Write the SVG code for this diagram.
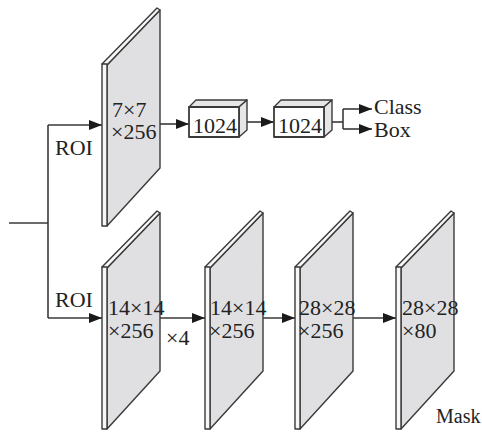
<svg xmlns="http://www.w3.org/2000/svg" width="482" height="433" viewBox="0 0 482 433">
  <style>
    .ln { fill: none; stroke: #3a3a3a; stroke-width: 1.6; }
    .face { fill: #e0e0e3; stroke: #3a3a3a; stroke-width: 1.4; stroke-linejoin: round; }
    .edge { fill: #f7f7f7; stroke: #3a3a3a; stroke-width: 1.4; stroke-linejoin: round; }
    .box { fill: #ffffff; stroke: #3a3a3a; stroke-width: 1.8; stroke-linejoin: round; }
    .boxside { fill: #e6e6e6; stroke: #3a3a3a; stroke-width: 1.4; stroke-linejoin: round; }
    .t { font-family: "Liberation Serif", "DejaVu Serif", serif; font-size: 22px; fill: #222222; }
  </style>
  <defs>
    <marker id="arrow" markerUnits="userSpaceOnUse" markerWidth="14" markerHeight="12" refX="13" refY="6" orient="auto">
      <path d="M0,1 L13,6 L0,11 Z" fill="#1a1a1a"/>
    </marker>
    <!-- feature-map slab: thin edge strip, top band, shaded face -->
    <g id="slab">
      <polygon class="face" points="107,65 160,10 160,168 107,226"/>
      <polygon class="edge" points="102,64 157,8 160,10 107,65"/>
      <rect class="edge" x="102" y="64" width="5" height="162"/>
    </g>
    <!-- fully connected block -->
    <g id="fc">
      <polygon class="boxside" points="189,107 196,100 247,100 239,107"/>
      <polygon class="boxside" points="239,107 247,100 247,130 239,137"/>
      <rect class="box" x="189" y="107" width="50" height="30"/>
    </g>
  </defs>

  <!-- connectors -->
  <g id="connectors">
    <path class="ln" d="M9,223 H48"/>
    <path class="ln" d="M48,125 V318"/>
    <path class="ln" d="M48,125 H102" marker-end="url(#arrow)"/>
    <path class="ln" d="M48,318 H102" marker-end="url(#arrow)"/>
    <path class="ln" d="M160,124 H189" marker-end="url(#arrow)"/>
    <path class="ln" d="M247,122 H274" marker-end="url(#arrow)"/>
    <path class="ln" d="M332,122 H343"/>
    <path class="ln" d="M343,109 V129"/>
    <path class="ln" d="M343,109 H372" marker-end="url(#arrow)"/>
    <path class="ln" d="M343,129 H372" marker-end="url(#arrow)"/>
    <path class="ln" d="M155,318 H205" marker-end="url(#arrow)"/>
    <path class="ln" d="M262,318 H295" marker-end="url(#arrow)"/>
    <path class="ln" d="M351,318 H396" marker-end="url(#arrow)"/>
  </g>

  <!-- box branch -->
  <g id="roi-box">
    <use href="#slab"/>
    <text class="t" x="112" y="117">7×7</text>
    <text class="t" x="111" y="139">×256</text>
  </g>
  <g id="fc1">
    <use href="#fc"/>
    <text class="t" x="193" y="133">1024</text>
  </g>
  <g id="fc2">
    <use href="#fc" transform="translate(85,0)"/>
    <text class="t" x="278" y="133">1024</text>
  </g>
  <g id="out-class"><text class="t" x="374" y="114">Class</text></g>
  <g id="out-box"><text class="t" x="374" y="137">Box</text></g>

  <!-- mask branch -->
  <g id="roi-mask">
    <use href="#slab" transform="translate(0,203)"/>
    <text class="t" x="108" y="315">14×14</text>
    <text class="t" x="108" y="338">×256</text>
  </g>
  <g id="conv4">
    <use href="#slab" transform="translate(103,203)"/>
    <text class="t" x="210" y="315">14×14</text>
    <text class="t" x="209" y="338">×256</text>
  </g>
  <g id="deconv">
    <use href="#slab" transform="translate(193,203)"/>
    <text class="t" x="299" y="315">28×28</text>
    <text class="t" x="298" y="338">×256</text>
  </g>
  <g id="mask-out">
    <use href="#slab" transform="translate(294,203)"/>
    <text class="t" x="402" y="315">28×28</text>
    <text class="t" x="402" y="338">×80</text>
  </g>

  <!-- labels -->
  <g id="labels">
    <text class="t" x="55" y="155">ROI</text>
    <text class="t" x="55" y="307">ROI</text>
    <text class="t" x="166" y="345">×4</text>
    <text class="t" x="436" y="423" style="font-size:20px">Mask</text>
  </g>
</svg>
